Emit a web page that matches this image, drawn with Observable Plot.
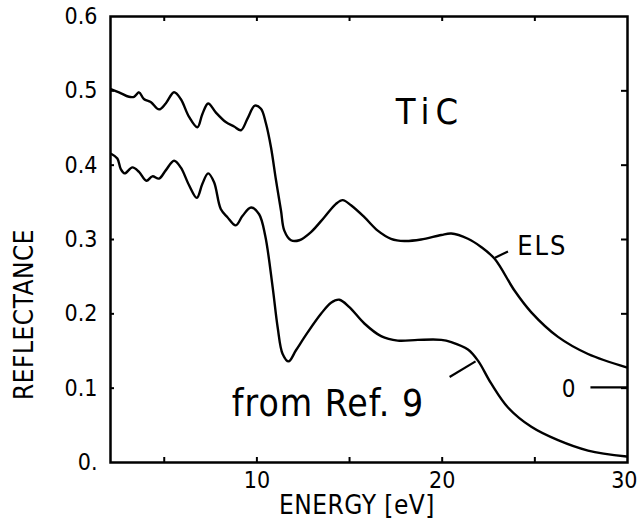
<!DOCTYPE html>
<html>
<head>
<meta charset="utf-8">
<script src="https://cdn.jsdelivr.net/npm/d3@7"></script>
<script src="https://cdn.jsdelivr.net/npm/@observablehq/plot@0.6"></script>
<style>
  html, body { margin: 0; padding: 0; background: #fff; }
  #chart svg { display: block; }
</style>
</head>
<body>
<div id="chart"></div>
<script>
// Reflectance of TiC versus photon energy: ELS-derived curve and curve from Ref. 9
const elsEnergy = [2.15, 2.56, 3.1, 3.37, 3.64, 3.9, 4.27, 4.72, 5.08, 5.53, 5.89, 6.34, 6.79, 7.06, 7.37, 7.78, 8.32, 8.77, 9.14, 9.5, 9.89, 10.22, 10.49, 10.76, 11.03, 11.3, 11.48, 11.84, 12.29, 12.92, 13.64, 14.27, 14.63, 15.08, 15.8, 16.52, 17.24, 17.96, 18.86, 19.95, 20.49, 21.39, 22.1, 22.83, 23.91, 24.81, 26.25, 27.87, 29.95];
const elsReflectance = [0.502, 0.498, 0.492, 0.492, 0.498, 0.489, 0.485, 0.475, 0.483, 0.498, 0.489, 0.465, 0.451, 0.469, 0.483, 0.471, 0.458, 0.452, 0.447, 0.463, 0.480, 0.476, 0.456, 0.424, 0.380, 0.339, 0.312, 0.299, 0.299, 0.310, 0.330, 0.348, 0.353, 0.346, 0.330, 0.312, 0.301, 0.298, 0.300, 0.306, 0.308, 0.301, 0.290, 0.274, 0.231, 0.202, 0.169, 0.146, 0.128];

const refEnergy = [2.15, 2.47, 2.65, 2.86, 3.28, 3.64, 4.04, 4.36, 4.72, 5.08, 5.53, 5.89, 6.34, 6.76, 7.06, 7.37, 7.69, 8.05, 8.41, 8.86, 9.23, 9.69, 10.12, 10.45, 10.85, 11.12, 11.39, 11.71, 12.11, 12.74, 13.46, 14.0, 14.45, 14.99, 15.8, 16.7, 17.6, 18.69, 19.95, 20.49, 21.39, 21.93, 22.65, 23.55, 24.81, 26.25, 27.87, 29.95];
const refReflectance = [0.415, 0.409, 0.395, 0.389, 0.397, 0.391, 0.379, 0.385, 0.382, 0.393, 0.406, 0.397, 0.373, 0.356, 0.375, 0.389, 0.377, 0.341, 0.330, 0.319, 0.332, 0.343, 0.334, 0.305, 0.236, 0.182, 0.146, 0.136, 0.151, 0.175, 0.200, 0.215, 0.219, 0.209, 0.187, 0.170, 0.164, 0.165, 0.165, 0.162, 0.152, 0.137, 0.106, 0.074, 0.048, 0.030, 0.016, 0.008];

// Axis ticks and their printed labels
const xLabelTicks = [10, 20];
const xEndTick = [30];
const xMinorTicks = [5, 10, 15, 20, 25];
const yTicks = [0, 0.1, 0.2, 0.3, 0.4, 0.5, 0.6];
const yTickLabels = ["0.", "0.1", "0.2", "0.3", "0.4", "0.5", "0.6"];
const yInnerTicks = [0.1, 0.2, 0.3, 0.4, 0.5];

// Annotations (energy in eV, reflectance)
const notes = [
  {text: "TiC", x: 17.5, y: 0.456, size: 36, spacing: 6},
  {text: "ELS", x: 24.05, y: 0.279, size: 27, spacing: 2},
  {text: "from Ref. 9", x: 8.65, y: 0.063, size: 37, spacing: 1},
  {text: "0", x: 26.45, y: 0.0875, size: 24, spacing: 0}
];
const leaders = [
  {x1: 22.85, y1: 0.2755, x2: 23.55, y2: 0.284},
  {x1: 20.4, y1: 0.115, x2: 21.8, y2: 0.136},
  {x1: 28.0, y1: 0.101, x2: 30.0, y2: 0.101}
];

const els = elsEnergy.map((e, i) => ({energy: e, r: elsReflectance[i]}));
const ref = refEnergy.map((e, i) => ({energy: e, r: refReflectance[i]}));

const W = 638, H = 531;
const M = {top: 16, right: 11, bottom: 69, left: 110};
const innerW = W - M.left - M.right;
const innerH = H - M.top - M.bottom;
const font = "'DejaVu Sans Condensed', 'DejaVu Sans', sans-serif";
const tick = {stroke: "#000", strokeWidth: 2};
const tickFont = 23;

const chart = Plot.plot({
  width: W,
  height: H,
  marginLeft: M.left,
  marginRight: M.right,
  marginTop: M.top,
  marginBottom: M.bottom,
  style: {fontFamily: font, background: "#fff", color: "#000"},
  x: {domain: [2.1, 30], axis: null},
  y: {domain: [0, 0.6], axis: null},
  marks: [
    // short inward ticks on all four sides of the frame
    Plot.ruleX(xMinorTicks, {x: d => d, insetBottom: innerH - 5, ...tick}),
    Plot.ruleX(xMinorTicks, {x: d => d, insetTop: innerH - 5, ...tick}),
    Plot.ruleY(yInnerTicks, {y: d => d, insetLeft: innerW - 6, ...tick}),
    Plot.ruleY(yInnerTicks, {y: d => d, insetRight: innerW - 4, ...tick}),
    // tick labels
    Plot.text(xLabelTicks, {x: d => d, text: d => String(d), frameAnchor: "bottom", lineAnchor: "top",
      dy: 9, fontSize: tickFont, fill: "#000"}),
    Plot.text(xEndTick, {x: d => d, text: d => String(d), frameAnchor: "bottom", lineAnchor: "top",
      textAnchor: "end", dx: 10, dy: 9, fontSize: tickFont, fill: "#000"}),
    Plot.text(yTicks, {y: d => d, text: (d, i) => yTickLabels[i], frameAnchor: "left", textAnchor: "end",
      dx: -13, fontSize: tickFont, fill: "#000"}),
    // axis titles
    Plot.text(["ENERGY [eV]"], {frameAnchor: "bottom", dx: -12, dy: 51, fill: "#000", fontSize: 26}),
    Plot.text(["REFLECTANCE"], {frameAnchor: "left", textAnchor: "middle", dx: -86, dy: 75, rotate: -90, fill: "#000", fontSize: 26}),
    // curves
    Plot.line(els, {x: "energy", y: "r", curve: "catmull-rom", stroke: "#000", strokeWidth: 2.4}),
    Plot.line(ref, {x: "energy", y: "r", curve: "catmull-rom", stroke: "#000", strokeWidth: 2.4}),
    // leaders and labels
    Plot.link(leaders, {x1: "x1", y1: "y1", x2: "x2", y2: "y2", stroke: "#000", strokeWidth: 2.2}),
    ...notes.map(n => Plot.text([n], {x: "x", y: "y", text: "text", textAnchor: "start", lineAnchor: "bottom",
      fill: "#000", fontSize: n.size})),
    Plot.frame({stroke: "#000", strokeWidth: 2.5})
  ]
});

// letter spacing of the annotations and axis titles
d3.select(chart).selectAll("text").each(function() {
  const el = d3.select(this);
  const t = this.textContent;
  const n = notes.find(d => d.text === t && d.spacing > 0);
  if (n) el.style("letter-spacing", n.spacing + "px");
  if (t === "ENERGY [eV]" || t === "REFLECTANCE") el.style("letter-spacing", "0.5px");
});

document.getElementById("chart").append(chart);
</script>
</body>
</html>
